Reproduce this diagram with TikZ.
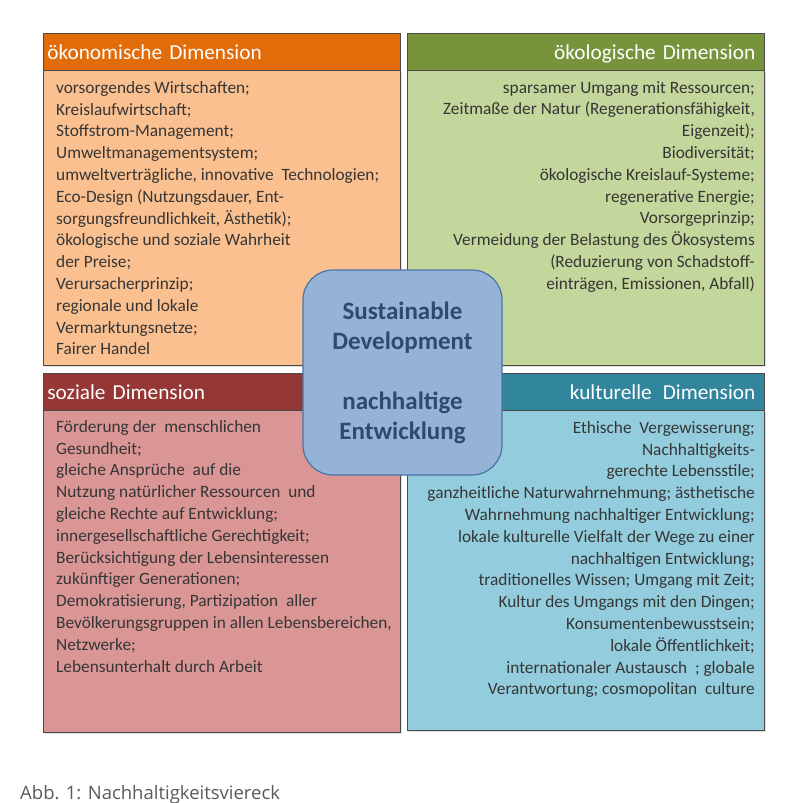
\documentclass[tikz,border=0pt]{standalone}
\usepackage{fontspec}
\setmainfont{Carlito}
\newfontfamily\captionfont{Open Sans}
\usetikzlibrary{positioning,shadows}

\definecolor{frame}{HTML}{4A4A4A}
\definecolor{bodyink}{HTML}{363636}
\definecolor{oekoHead}{HTML}{E36C0A}
\definecolor{oekoFill}{HTML}{FAC090}
\definecolor{ecoHead}{HTML}{77933C}
\definecolor{ecoFill}{HTML}{C3D69B}
\definecolor{sozHead}{HTML}{953735}
\definecolor{sozFill}{HTML}{D99694}
\definecolor{kultHead}{HTML}{31859C}
\definecolor{kultFill}{HTML}{93CDDD}
\definecolor{coreFill}{HTML}{95B3D7}
\definecolor{coreLine}{HTML}{4A74A8}
\definecolor{coreInk}{HTML}{2F4A6B}
\definecolor{capInk}{HTML}{5A5A5A}

\tikzset{
  dimhead/.style={draw=frame, line width=0.7pt, anchor=north west,
    minimum width=357pt, minimum height=37pt, text width=349pt,
    text height=17pt, text depth=2.5pt,
    inner xsep=4pt, text=white, font=\fontsize{21.3}{22}\selectfont},
  dimbody/.style={draw=frame, line width=0.7pt, anchor=north west,
    minimum width=357pt, inner sep=0pt},
  bodytext/.style={inner sep=0pt, text=bodyink,
    font=\fontsize{17.3}{21.8}\selectfont},
  core/.style={draw=coreLine, fill=coreFill, line width=1.2pt,
    rounded corners=30pt, minimum width=199pt, minimum height=205pt,
    align=center, text=coreInk, font=\fontsize{25}{30}\selectfont\bfseries}
}

\begin{document}
\begin{tikzpicture}[x=1pt,y=-1pt]
  \useasboundingbox[fill=white] (0,0) rectangle (807,803);

  % oekonomische Dimension
  \node[dimbody, fill=oekoFill, minimum height=295pt,
    drop shadow={opacity=0.25, shadow xshift=1.5pt, shadow yshift=-1.5pt}] (oekoBody) at (43,70) {};
  \node[dimhead, fill=oekoHead, align=left] (oekoHead) at (43,33) {ökonomische Dimension};
  \node[bodytext, anchor=north west, align=left] (oekoText) at (56,81)
    {vorsorgendes Wirtschaften;\\
     Kreislaufwirtschaft;\\
     Stoffstrom-Management;\\
     Umweltmanagementsystem;\\
     umweltverträgliche, innovative\ \ Technologien;\\
     Eco-Design (Nutzungsdauer, Ent-\\
     sorgungsfreundlichkeit, Ästhetik);\\
     ökologische und soziale Wahrheit\\
     der Preise;\\
     Verursacherprinzip;\\
     regionale und lokale\\
     Vermarktungsnetze;\\
     Fairer Handel};

  % oekologische Dimension
  \node[dimbody, fill=ecoFill, minimum height=295pt,
    drop shadow={opacity=0.25, shadow xshift=1.5pt, shadow yshift=-1.5pt}] (ecoBody) at (407,70) {};
  \node[dimhead, fill=ecoHead, align=right, text width=339pt] (ecoHead) at (407,33) {ökologische Dimension};
  \node[bodytext, anchor=north east, align=right] (ecoText) at (755,81)
    {sparsamer Umgang mit Ressourcen;\\
     Zeitmaße der Natur (Regenerationsfähigkeit,\\
     Eigenzeit);\\
     Biodiversität;\\
     ökologische Kreislauf-Systeme;\\
     regenerative Energie;\\
     Vorsorgeprinzip;\\
     Vermeidung der Belastung des Ökosystems\\
     (Reduzierung von Schadstoff-\\
     einträgen, Emissionen, Abfall)};

  % soziale Dimension
  \node[dimbody, fill=sozFill, minimum height=322pt,
    drop shadow={opacity=0.25, shadow xshift=1.5pt, shadow yshift=-1.5pt}] (sozBody) at (43,410) {};
  \node[dimhead, fill=sozHead, align=left] (sozHead) at (43,373) {soziale Dimension};
  \node[bodytext, anchor=north west, align=left] (sozText) at (56,420)
    {Förderung der\ \ menschlichen\\
     Gesundheit;\\
     gleiche Ansprüche\ \ auf die\\
     Nutzung natürlicher Ressourcen\ \ und\\
     gleiche Rechte auf Entwicklung;\\
     innergesellschaftliche Gerechtigkeit;\\
     Berücksichtigung der Lebensinteressen\\
     zukünftiger Generationen;\\
     Demokratisierung, Partizipation\ \ aller\\
     Bevölkerungsgruppen in allen Lebensbereichen,\\
     Netzwerke;\\
     Lebensunterhalt durch Arbeit};

  % kulturelle Dimension
  \node[dimbody, fill=kultFill, minimum height=320pt,
    drop shadow={opacity=0.25, shadow xshift=1.5pt, shadow yshift=-1.5pt}] (kultBody) at (407,410) {};
  \node[dimhead, fill=kultHead, align=right, text width=339pt] (kultHead) at (407,373) {kulturelle\hspace{4pt} Dimension};
  \node[bodytext, anchor=north east, align=right] (kultText) at (755,421)
    {Ethische\ \ Vergewisserung;\\
     Nachhaltigkeits-\\
     gerechte Lebensstile;\\
     ganzheitliche Naturwahrnehmung; ästhetische\\
     Wahrnehmung nachhaltiger Entwicklung;\\
     lokale kulturelle Vielfalt der Wege zu einer\\
     nachhaltigen Entwicklung;\\
     traditionelles Wissen; Umgang mit Zeit;\\
     Kultur des Umgangs mit den Dingen;\\
     Konsumentenbewusstsein;\\
     lokale Öffentlichkeit;\\
     internationaler Austausch\ \ ; globale\\
     Verantwortung; cosmopolitan\ \ culture};

  % Mitte
  \node[core] (core) at (402.5,372.5)
    {Sustainable\\Development\\[30pt]nachhaltige\\Entwicklung};

  % Bildunterschrift
  \node[anchor=base west, inner sep=0pt, text=capInk,
    font=\captionfont\fontsize{18.5}{22}\selectfont] (caption) at (20,799)
    {Abb. 1: Nachhaltigkeitsviereck};
\end{tikzpicture}
\end{document}
